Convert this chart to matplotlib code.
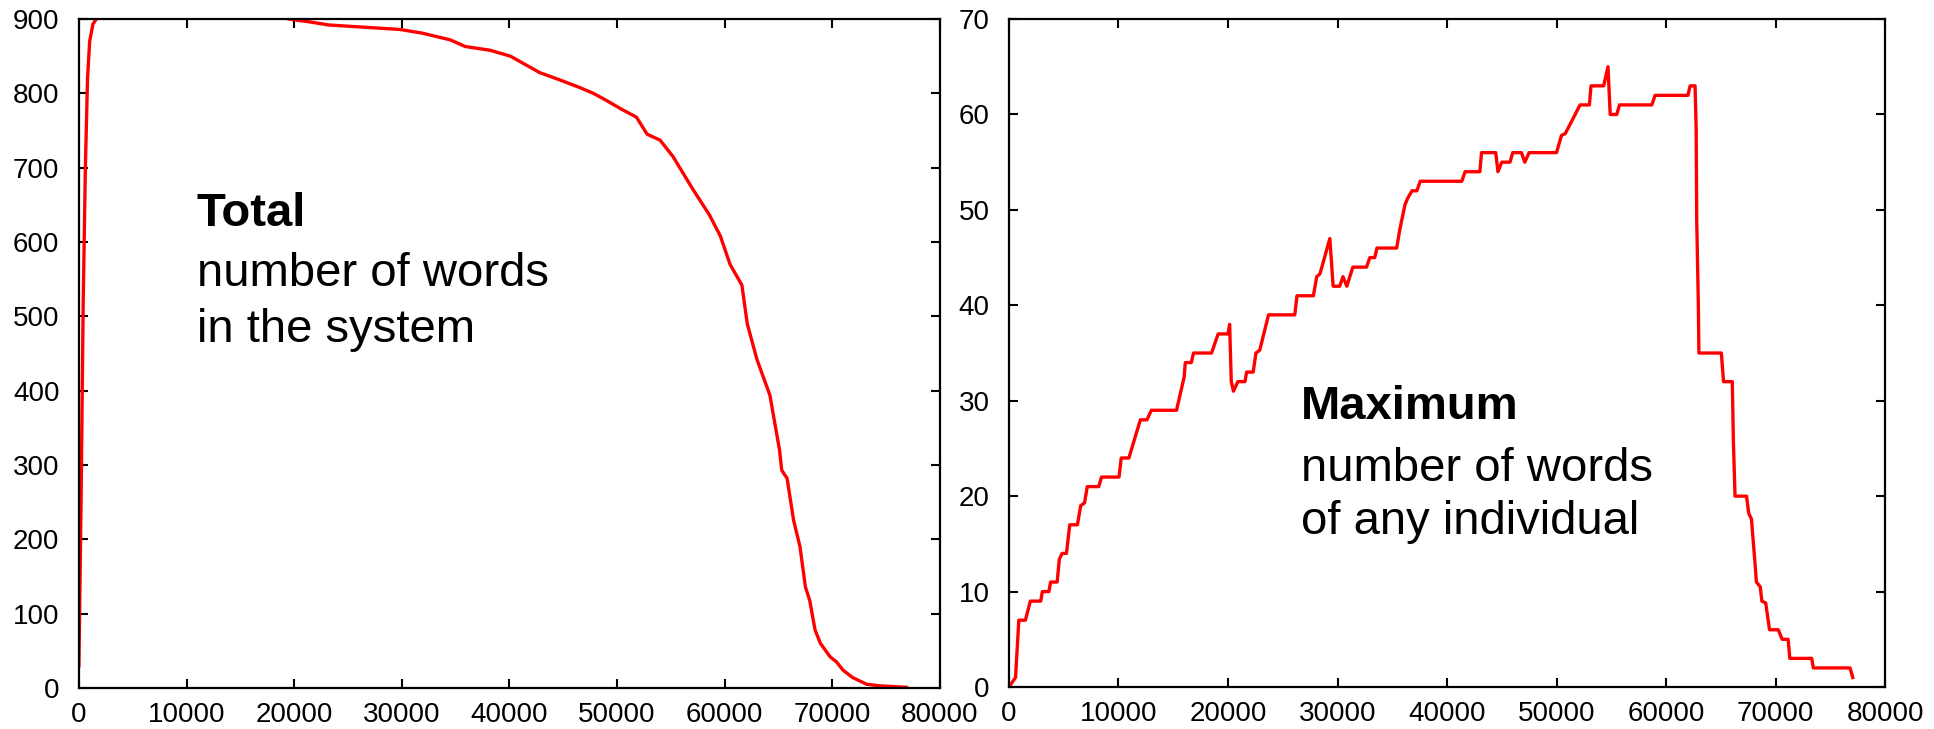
import matplotlib
matplotlib.use("Agg")
from matplotlib import pyplot as plt

plt.rcParams["font.family"] = ["Liberation Sans", "DejaVu Sans"]

# total number of words in the system (values above 900 are clipped by the axis)
total_t = [0, 200, 400, 600, 800, 1000, 1300, 1700, 2500, 10000, 17000, 19500,
           21500, 23200, 26500, 29800, 31900, 34500, 35900, 38200, 40100, 42800,
           44700, 46500, 47800, 48700, 50500, 51800, 52800, 54000, 55200, 57000,
           58600, 59600, 60500, 61600, 62100, 63000, 64200, 65100, 65300, 65800,
           66400, 67000, 67500, 67900, 68400, 68900, 69800, 70400, 71000, 71900,
           73200, 74400, 76900]
total_n = [30, 250, 520, 700, 820, 870, 893, 902, 912, 918, 910, 900,
           896, 892, 889, 886, 881, 872, 863, 858, 850, 828,
           818, 808, 800, 793, 778, 768, 745, 737, 715, 672,
           636, 608, 570, 542, 490, 442, 394, 320, 293, 282,
           226, 190, 136, 118, 78, 60, 42, 35, 24, 14,
           5, 3, 1]

# maximum number of words of any individual
max_t = [0, 300, 600, 750, 900, 1500, 1950, 2900, 3050, 3650, 3800, 4400, 4600,
         4850, 5250, 5550, 6250, 6550, 6900, 7150, 8200, 8450, 10050, 10250,
         10950, 12000, 12600, 13000, 15300, 15700, 16000, 16100, 16650, 16850,
         18500, 18800, 19100, 20000, 20150, 20300, 20500, 20900, 21550, 21700,
         22300, 22550, 22900, 23700, 26100, 26300, 27800, 28100, 28400, 29300,
         29600, 30200, 30500, 30850, 31400, 32650, 32950, 33400, 33600, 35400,
         35700, 36150, 36400, 36800, 37250, 37550, 41350, 41650, 43000, 43150,
         44450, 44650, 45000, 45750, 46000, 46800, 47100, 47500, 50000, 50450,
         50800, 51250, 51700, 52150, 53000, 53150, 54300, 54700, 54900, 55500,
         55750, 58700, 59000, 62000, 62200, 62650, 62750, 62800, 62950, 63000,
         65050, 65250, 66050, 66150, 66300, 67350, 67550, 67800, 68100, 68250,
         68600, 68750, 69100, 69450, 70250, 70600, 71150, 71300, 73300, 73450,
         76800, 77050]
max_n = [0, 0.5, 1, 4, 7, 7, 9, 9, 10, 10, 11, 11, 13.4,
         14, 14, 17, 17, 19, 19.3, 21, 21, 22, 22, 24,
         24, 28, 28, 29, 29, 31, 32.5, 34, 34, 35,
         35, 36, 37, 37, 38, 32, 31, 32, 32, 33,
         33, 35, 35.3, 39, 39, 41, 41, 43, 43.3, 47,
         42, 42, 43, 42, 44, 44, 45, 45, 46, 46,
         48, 50.5, 51.2, 52, 52, 53, 53, 54, 54, 56,
         56, 54, 55, 55, 56, 56, 55, 56, 56, 57.8,
         58, 59, 60, 61, 61, 63, 63, 65, 60, 60,
         61, 61, 62, 62, 63, 63, 58.5, 49, 40, 35,
         35, 32, 32, 25.7, 20, 20, 18.2, 17.6, 13.3, 11,
         10.5, 9, 8.8, 6, 6, 5, 5, 3, 3, 2,
         2, 1]

fig = plt.figure(figsize=(19.34, 7.29), dpi=100)
ax1 = fig.add_axes([0.0408, 0.0562, 0.4452, 0.9177])
ax2 = fig.add_axes([0.5217, 0.0576, 0.4530, 0.9163])

ax1.plot(total_t, total_n, color="#ff0000", lw=2.4)
ax2.plot(max_t, max_n, color="#ff0000", lw=2.4)

ax1.set_ylim(0, 900)
ax1.set_yticks(range(0, 901, 100))
ax2.set_ylim(0, 70)
ax2.set_yticks(range(0, 71, 10))

for ax in (ax1, ax2):
    ax.set_xlim(0, 80000)
    ax.set_xticks(range(0, 80001, 10000))
    ax.tick_params(direction="in", length=6.5, width=1.5, labelsize=20,
                   top=True, right=True, pad=14)
    ax.tick_params(axis="x", pad=10)
    for s in ax.spines.values():
        s.set_linewidth(1.6)
        s.set_zorder(3)

# labels inside the panels
ax1.text(0.137, 0.69, "Total", transform=ax1.transAxes, fontsize=34,
         fontweight="bold", va="baseline")
ax1.text(0.137, 0.601, "number of words", transform=ax1.transAxes,
         fontsize=34, va="baseline")
ax1.text(0.137, 0.517, "in the system", transform=ax1.transAxes,
         fontsize=34, va="baseline")

ax2.text(0.333, 0.401, "Maximum", transform=ax2.transAxes, fontsize=34,
         fontweight="bold", va="baseline")
ax2.text(0.333, 0.308, "number of words", transform=ax2.transAxes,
         fontsize=34, va="baseline")
ax2.text(0.333, 0.229, "of any individual", transform=ax2.transAxes,
         fontsize=34, va="baseline")

fig.savefig("out.png", dpi=100)
